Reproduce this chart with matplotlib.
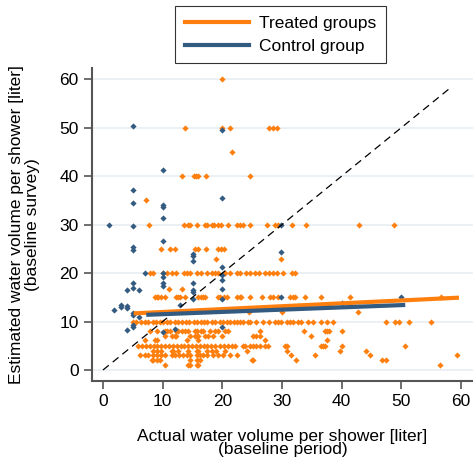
import numpy as np
import matplotlib
matplotlib.use("Agg")
import matplotlib.pyplot as plt

plt.rcParams['font.family'] = ['Liberation Sans', 'DejaVu Sans']

# treated group points, x values grouped by estimated-volume level
treated_rows = {
    60: [20],
    50: [13.7, 20, 21.2, 27.8, 28.5, 29.1],
    45: [21.6],
    40: [13.2, 15.2, 15.6, 16, 17.3, 24.6],
    35: [7.2],
    30: [7.7, 13.5, 14.3, 14.6, 15.8, 17.1, 17.5, 18.2, 18.6, 19.3, 19.7, 21, 22.4, 22.9,
         23.5, 24.6, 27.4, 28.8, 29.4, 31.6, 34.1, 42.9, 48.7],
    25: [9.8, 11.2, 12.1, 15.4, 16, 17.2, 19.3, 19.8, 20.3],
    23: [19, 29.8],
    20: [7.9, 8.4, 10.1, 10.7, 11.5, 12.3, 13.5, 14, 14.6, 15.7, 16.5, 17.4, 18.2, 18.8, 19.3,
         20.4, 21.3, 22.4, 22.9, 24, 24.6, 25.4, 26.2, 27.1, 27.9, 28.5, 29.1, 30.2, 31.6, 32.2],
    16.8: [11, 13.3],
    15: [8.7, 9, 9.3, 9.8, 10.4, 12.3, 12.6, 12.9, 13.7, 16, 16.5, 16.8, 17.1, 19.3, 19.6, 20.2,
         20.7, 22.4, 22.9, 23.2, 24.6, 26.6, 28, 28.5, 29.4, 31.4, 31.8, 32.2, 33.8, 36.5, 41.4, 56.7],
    12: [24.4, 30, 42.8],
    10: [5, 5.6, 6.4, 7, 7.5, 8.3, 8.8, 9.6, 10.1, 10.8, 11.3, 12, 12.5, 13.3, 13.9, 14.4, 15.2,
         15.7, 16.4, 17, 17.5, 18.3, 18.8, 19.6, 20.1, 20.8, 21.3, 22, 22.4, 22.9, 23.5, 24.3,
         24.6, 25.7, 26.8, 27.9, 28.8, 29.4, 29.9, 30.8, 31.3, 31.8, 32.7, 33.1, 34.4, 35.2,
         36.6, 37.5, 38.6, 47.5, 48.9, 49.6, 51.3, 54.9],
    8: [7.9, 9, 10.4, 10.7, 11.2, 12.3, 12.6, 13.2, 13.7, 14.3, 15.4, 15.7, 16.5, 16.8, 17.9,
        18.8, 19.3, 20.4, 21, 26.3, 33.6, 37.2, 37.6, 37.9, 40],
    7: [10.4, 11.5, 12.1, 12.3, 14.6, 15.4, 15.7, 16, 17.1, 17.6, 18.5, 19.9, 25.2, 25.7, 26.3, 34.8],
    6.2: [7, 8.7, 9, 14, 16, 27.2, 37.6],
    5: [5.9, 6.5, 7.2, 7.8, 8.6, 9.1, 9.8, 10.4, 11.1, 11.7, 12.4, 13, 13.6, 14.3, 14.9, 15.6,
        16.2, 16.9, 17.5, 18.1, 18.8, 19.6, 20.3, 21, 21.6, 22.1, 23.5, 23.8, 24.6, 25.2, 25.7,
        26.3, 27.1, 27.7, 30.5, 30.9, 36.5, 36.8, 37.2, 40.1, 50.6],
    4: [8.4, 9, 9.8, 11.5, 11.8, 12.6, 14.3, 15.7, 16, 17.4, 18.2, 19, 20.4, 24.1, 30.8, 39.7, 44],
    3: [6.2, 7, 7.6, 8.4, 9, 9.8, 10.4, 11.5, 12.1, 12.8, 13.4, 14, 14.6, 15.7, 16.2, 16.8, 17.4,
        18.5, 19.3, 20.1, 21.2, 22.4, 31.5, 35.5, 44.8, 59.4],
    2: [8.2, 8.4, 9, 9.5, 14.6, 15.7, 16.2, 25, 25.2, 32.4, 46.7, 47.4],
    1.1: [10.4, 14.3, 14.6, 15.7, 16, 56.4],
}

control_x = [1, 5, 5, 5, 5, 5, 5, 5, 5, 4, 6.1, 7, 1.9, 3, 3, 4, 4, 5, 5, 6.1, 4, 5, 5,
             10, 10, 10, 10, 10, 10, 10, 10, 10, 10, 12, 15, 15, 15, 15, 15, 15, 15, 12.9,
             20, 20, 20, 20, 20, 20, 20, 20, 29.9, 29.9, 29.9, 40, 50]
control_y = [30, 50.3, 37.2, 34.4, 29.8, 25.4, 24.7, 17.9, 17, 16.4, 16.6, 20, 12.4, 13.4, 13,
             13.2, 12.7, 11.7, 11.4, 11, 8.2, 9.3, 8.8,
             41.2, 34, 33.7, 31.3, 26.7, 20, 19.1, 17.9, 17.3, 7.9, 8.4, 24, 23.5, 22.5, 17.9,
             16.6, 16.1, 14.6, 13.4,
             49.5, 35.4, 21.2, 19.6, 18.6, 16.8, 14.6, 8.8, 29.9, 24.4, 15, 13.9, 15]

# fitted lines (end points) and 45 degree reference
treated_fit_x = [5.5, 59.3]
treated_fit_y = [11.7, 14.9]
control_fit_x = [7.6, 50.3]
control_fit_y = [11.4, 13.4]
diag = [0, 58]

orange = '#ff7f0e'
blue = '#335a80'
fs = 12.5

treated_x = np.concatenate([np.array(v, float) for v in treated_rows.values()])
treated_y = np.concatenate([np.full(len(v), k, float) for k, v in treated_rows.items()])

fig = plt.figure(figsize=(4.73, 4.59), dpi=100)
ax = fig.add_axes([92 / 473, 78 / 459, 381 / 473, 313 / 459])

ax.scatter(treated_x, treated_y, marker='D', s=10, color=orange, linewidths=0, zorder=2)
ax.scatter(control_x, control_y, marker='D', s=10, color=blue, linewidths=0, zorder=3)
ax.plot(diag, diag, color='black', lw=0.9, ls=(0, (6, 4)), zorder=4)
l1, = ax.plot(treated_fit_x, treated_fit_y, color=orange, lw=3, zorder=5, label='Treated groups')
l2, = ax.plot(control_fit_x, control_fit_y, color=blue, lw=3, zorder=6, label='Control group')

ax.set_xlim(-1.84, 62)
ax.set_ylim(-2.27, 62.3)
ax.set_xticks(range(0, 61, 10))
ax.set_yticks(range(0, 61, 10))
ax.grid(axis='y', color='#e8eff3', lw=1.3, zorder=0)
ax.set_axisbelow(True)
for s in ['top', 'right']:
    ax.spines[s].set_visible(False)
for s in ['left', 'bottom']:
    ax.spines[s].set_color('#555555')
    ax.spines[s].set_linewidth(1.5)
ax.tick_params(colors='#555555', width=1.2, length=6, labelsize=fs, labelcolor='black')

ax.set_xlabel('Actual water volume per shower [liter]\n(baseline period)', fontsize=fs,
              labelpad=14, linespacing=0.9)
ax.set_ylabel('Estimated water volume per shower [liter]\n(baseline survey)', fontsize=fs,
              labelpad=14, linespacing=1.1)

leg = fig.legend(handles=[l1, l2], loc='upper left', bbox_to_anchor=(175 / 473, 1 - 6 / 459),
                 fontsize=fs, frameon=True, fancybox=False, handlelength=3.7, borderpad=0.55,
                 labelspacing=0.45, handletextpad=0.6, borderaxespad=0)
leg.get_frame().set_edgecolor('black')
leg.get_frame().set_linewidth(0.8)

fig.savefig('out.png', dpi=100)
